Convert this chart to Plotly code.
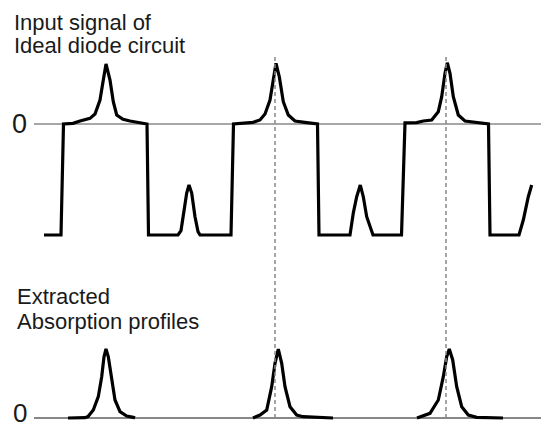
import plotly.graph_objects as go

# Input signal of the ideal diode circuit: time samples and amplitude
# (0 = reference level, -1 = low level of the square drive)
input_t = [44, 61, 63.5, 73, 80, 90, 95, 100, 103.3, 106, 110, 113.3, 116.7, 123, 130, 140, 146, 147,
           148.5, 178, 181, 183.3, 186.7, 189, 191.7, 195, 198, 200, 231,
           233.5, 253, 260, 265, 270, 273.3, 276, 279.3, 283.3, 288.3, 295, 306.7, 316.7, 317.5,
           319, 350, 353.3, 356.7, 360.3, 363.3, 366.7, 371.7, 373, 401.5,
           404.5, 405, 416.7, 423.3, 431.7, 438.3, 441.7, 445, 447.3, 450, 453.3, 458.3, 465, 480, 488, 488.5,
           490, 519, 523.3, 528.3, 531.7]
input_amp = [-1.0, -1.0, 0.0, 0.006, 0.027, 0.051, 0.09, 0.216, 0.396, 0.541, 0.396, 0.201, 0.081, 0.042, 0.027, 0.012, 0.006, 0.0,
             -1.0, -1.0, -0.96, -0.802, -0.622, -0.55, -0.622, -0.835, -0.97, -1.0, -1.0,
             0.0, 0.015, 0.036, 0.09, 0.216, 0.426, 0.547, 0.426, 0.201, 0.081, 0.027, 0.012, 0.006, 0.0,
             -1.0, -1.0, -0.802, -0.655, -0.55, -0.655, -0.835, -0.982, -1.0, -1.0,
             0.0, 0.01, 0.012, 0.027, 0.036, 0.111, 0.246, 0.457, 0.552, 0.457, 0.246, 0.081, 0.027, 0.012, 0.006, 0.0,
             -1.0, -1.0, -0.865, -0.655, -0.55]

# Extracted absorption profiles (normalised), one window per high half-period
prof1_t = [68, 85, 88, 93.3, 98.3, 101.7, 104, 106, 108.3, 111.7, 115, 120, 126.7, 133.3, 135]
prof1_amp = [0, 0.005, 0.02, 0.116, 0.309, 0.599, 0.888, 1.0, 0.888, 0.551, 0.261, 0.091, 0.029, 0.01, 0]
prof2_t = [253, 260, 266.7, 271.7, 275, 278.3, 281.7, 285, 290, 296.7, 303, 333]
prof2_amp = [0, 0.043, 0.116, 0.454, 0.793, 1.0, 0.793, 0.454, 0.164, 0.043, 0.019, 0]
prof3_t = [417, 430, 438.3, 443.3, 446.7, 449.3, 452.7, 456.7, 461.7, 468.3, 476.7, 503]
prof3_amp = [0, 0.068, 0.261, 0.599, 0.888, 1.0, 0.841, 0.454, 0.164, 0.043, 0.01, 0]

# Peak positions marked across both panels
marker_t = [275, 446]

T_START, T_END = 34, 541

FONT = "Liberation Sans, Arial, sans-serif"
W, H = 541, 429

fig = go.Figure()

# reference (zero) levels
fig.add_trace(go.Scatter(x=[T_START, T_END], y=[0, 0], mode="lines",
                         line=dict(color="#8a8a8a", width=1.6), yaxis="y", hoverinfo="skip"))
fig.add_trace(go.Scatter(x=[T_START, T_END], y=[0, 0], mode="lines",
                         line=dict(color="#111111", width=1.2), yaxis="y2", hoverinfo="skip"))

fig.add_trace(go.Scatter(x=input_t, y=input_amp, mode="lines",
                         line=dict(color="black", width=3.2), yaxis="y"))
for t, a in [(prof1_t, prof1_amp), (prof2_t, prof2_amp), (prof3_t, prof3_amp)]:
    fig.add_trace(go.Scatter(x=t, y=a, mode="lines",
                             line=dict(color="black", width=3.2), yaxis="y2"))

# dashed peak markers spanning both panels
for t in marker_t:
    fig.add_shape(type="line", xref="x", yref="paper", x0=t, x1=t,
                  y0=1 - 418 / H, y1=1 - 56 / H,
                  line=dict(color="#888888", width=1.5, dash="4px,3px"))

annots = [
    dict(text="Input signal of", x=12, y=23, size=22),
    dict(text="Ideal diode circuit", x=12, y=45, size=22),
    dict(text="Extracted", x=15, y=296, size=22),
    dict(text="Absorption profiles", x=15, y=321, size=22),
]
for a in annots:
    fig.add_annotation(text=a["text"], xref="paper", yref="paper",
                       x=a["x"] / W, y=1 - a["y"] / H, xanchor="left", yanchor="middle",
                       showarrow=False, font=dict(family=FONT, size=a["size"], color="#1a1a1a"))
for ax, shift, size in [("y", 0, 27), ("y2", 5, 26)]:
    fig.add_annotation(text="0", xref="paper", yref=ax, x=28 / W, y=0, yshift=shift,
                       xanchor="right", yanchor="middle", showarrow=False, borderpad=0,
                       font=dict(family=FONT, size=size, color="#1a1a1a"))

fig.update_layout(
    width=W, height=H,
    margin=dict(l=0, r=0, t=0, b=0),
    paper_bgcolor="white", plot_bgcolor="white",
    showlegend=False,
    xaxis=dict(range=[0, W], visible=False, fixedrange=True),
    yaxis=dict(range=[-(H - 124) / 111, 124 / 111], visible=False),
    yaxis2=dict(range=[-(H - 418) / 69, 418 / 69], visible=False, overlaying="y"),
)

fig.write_html("out.html")
